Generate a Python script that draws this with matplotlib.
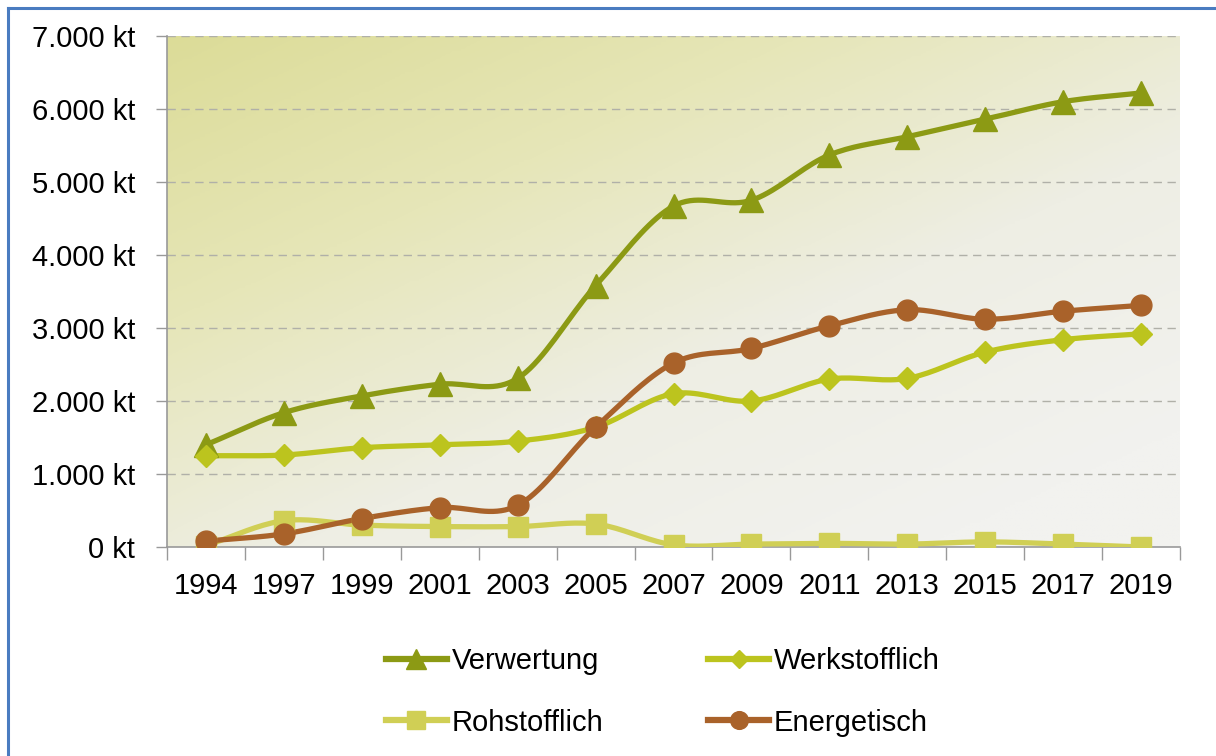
import matplotlib
matplotlib.use('agg')
import matplotlib.pyplot as plt
import numpy as np
from matplotlib.colors import LinearSegmentedColormap
from matplotlib.lines import Line2D

plt.rcParams['font.family'] = ['Liberation Sans', 'DejaVu Sans']

years = ['1994', '1997', '1999', '2001', '2003', '2005', '2007',
         '2009', '2011', '2013', '2015', '2017', '2019']
verwertung = [1400, 1840, 2070, 2230, 2310, 3580, 4670, 4750, 5370, 5620, 5860, 6100, 6220]
werkstofflich = [1250, 1260, 1360, 1400, 1450, 1640, 2100, 2000, 2300, 2310, 2670, 2840, 2920]
rohstofflich = [20, 360, 300, 280, 280, 315, 30, 40, 50, 40, 70, 40, 0]
energetisch = [80, 180, 390, 540, 570, 1640, 2520, 2720, 3030, 3250, 3120, 3230, 3310]
yticks = [0, 1000, 2000, 3000, 4000, 5000, 6000, 7000]
ytick_labels = ['0 kt', '1.000 kt', '2.000 kt', '3.000 kt', '4.000 kt',
                '5.000 kt', '6.000 kt', '7.000 kt']

series = [
    ('Verwertung', verwertung, '#8c9a14', '^', 17),
    ('Werkstofflich', werkstofflich, '#bcc41e', 'D', 11),
    ('Rohstofflich', rohstofflich, '#d0cf55', 's', 15),
    ('Energetisch', energetisch, '#a9622a', 'o', 15),
]


def smooth(x, y, n=20):
    # Catmull-Rom curve through the points (like Excel's smoothed lines)
    x = np.asarray(x, float)
    y = np.asarray(y, float)
    px = np.concatenate([[2 * x[0] - x[1]], x, [2 * x[-1] - x[-2]]])
    py = np.concatenate([[2 * y[0] - y[1]], y, [2 * y[-1] - y[-2]]])
    t = np.linspace(0, 1, n)
    ox, oy = [], []
    for i in range(1, len(px) - 2):
        for arr, out in ((px, ox), (py, oy)):
            p0, p1, p2, p3 = arr[i - 1], arr[i], arr[i + 1], arr[i + 2]
            out.extend(0.5 * (2 * p1 + (-p0 + p2) * t
                              + (2 * p0 - 5 * p1 + 4 * p2 - p3) * t ** 2
                              + (-p0 + 3 * p1 - 3 * p2 + p3) * t ** 3))
    return np.array(ox), np.array(oy)


fig = plt.figure(figsize=(12.16, 7.56), dpi=100)
ax = fig.add_axes([167 / 1216, 1 - 547 / 756, (1180 - 167) / 1216, (547 - 36) / 756])

# gradient background: yellowish top-left to light grey bottom-right
gx, gy = np.meshgrid(np.linspace(0, 1, 200), np.linspace(0, 1, 200))
g = np.clip((gx * 0.8 + gy * 0.9) / 1.5, 0, 1)
cmap = LinearSegmentedColormap.from_list('bg', ['#dcdc98', '#e6e6b8', '#eeeee4', '#f2f2ef'])
ax.imshow(g, cmap=cmap, extent=[0, 1, 0, 1], transform=ax.transAxes,
          aspect='auto', zorder=0, origin='upper')

xs = np.arange(len(years))
for name, vals, col, mk, ms in series:
    sx, sy = smooth(xs, vals)
    ax.plot(sx, sy, color=col, linewidth=3.8, zorder=3, solid_capstyle='round')
    ax.plot(xs, vals, linestyle='none', marker=mk, markersize=ms,
            color=col, markeredgecolor=col, zorder=4)

ax.set_xlim(-0.5, len(years) - 0.5)
ax.set_ylim(0, 7000)
ax.set_yticks(yticks)
ax.set_yticklabels(ytick_labels, fontsize=21)
ax.set_xticks(np.arange(-0.5, len(years), 1.0))
ax.set_xticklabels([])
ax.set_xticks(xs, minor=True)
ax.set_xticklabels(years, minor=True, fontsize=21)
ax.tick_params(axis='x', which='major', length=9, color='#999999', width=1)
ax.tick_params(axis='x', which='minor', length=0, pad=18)
ax.tick_params(axis='y', length=8, color='#999999', width=1, pad=15)
for y in yticks[1:]:
    ax.axhline(y, color='#b0b0a8', linestyle=(0, (6, 4)), linewidth=1, zorder=1)
for s in ['top', 'right']:
    ax.spines[s].set_visible(False)
for s in ['left', 'bottom']:
    ax.spines[s].set_color('#999999')
    ax.spines[s].set_linewidth(1.2)

# legend: row 1 Verwertung/Werkstofflich, row 2 Rohstofflich/Energetisch
order = [0, 2, 1, 3]
handles = [Line2D([0], [0], color=series[i][2], linewidth=4.5, marker=series[i][3],
                  markersize=series[i][4] * 0.85, markeredgecolor=series[i][2])
           for i in order]
labels = [series[i][0] for i in order]
fig.legend(handles, labels, loc='center', bbox_to_anchor=(0.545, 0.085), ncol=2,
           frameon=False, fontsize=21, handlelength=2.1, handletextpad=0.15,
           columnspacing=3.6, labelspacing=1.15)

# blue frame around the picture
fig.add_artist(Line2D([8 / 1216, 8 / 1216], [0, 1 - 8 / 756], color='#4a7cc0',
                      linewidth=2.2, transform=fig.transFigure))
fig.add_artist(Line2D([8 / 1216, 1], [1 - 8 / 756, 1 - 8 / 756], color='#4a7cc0',
                      linewidth=2.2, transform=fig.transFigure))

fig.savefig('out.png', dpi=100)
